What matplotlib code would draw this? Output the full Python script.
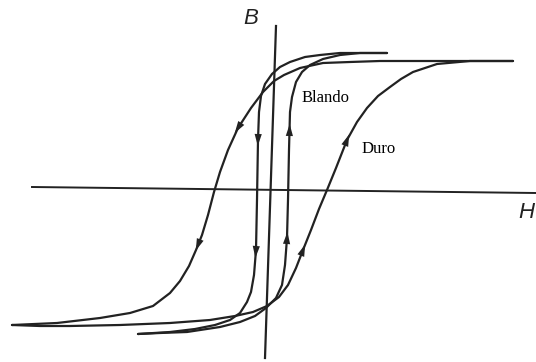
import numpy as np
import matplotlib
matplotlib.use("Agg")
import matplotlib.pyplot as plt

# hysteresis loops, values (H, B in arbitrary units)
# hard material (Duro), descending branch
hard_down_h = [243, 200, 150, 110, 80, 53, 30, 14, 4, -7, -19, -32, -42, -50, -56,
               -62, -68, -74, -81, -90, -100, -117, -140, -170, -213, -258]
hard_down_b = [127, 127, 127, 127, 126, 125, 120, 113, 107, 96, 80, 60, 38, 16, -4,
               -27, -47, -62, -78, -93, -105, -118, -125, -130, -135, -137]
# hard material, ascending branch
hard_up_h = [-258, -230, -200, -150, -100, -60, -35, -17, -3, 9, 18, 26, 33, 41, 49,
             57, 66, 77, 87, 97, 108, 120, 131, 143, 167, 200, 243]
hard_up_b = [-137, -138, -138, -137, -135, -132, -128, -124, -118, -109, -97, -80, -62,
             -42, -21, -2, 20, 48, 66, 80, 92, 101, 109, 116, 124, 127, 127]
# soft material (Blando), descending branch
soft_down_h = [117, 100, 70, 50, 35, 20, 10, 2, -5, -9, -11, -12, -13, -14, -16, -19,
               -23, -30, -40, -55, -75, -100, -132]
soft_down_b = [135, 135, 135, 133, 131, 126, 121, 114, 104, 92, 76, 48, -12, -62, -87,
               -104, -114, -125, -132, -137, -141, -144, -146]
# soft material, ascending branch
soft_up_h = [-132, -110, -83, -50, -30, -15, -4, 6, 12, 15, 17, 18, 19, 20, 22, 26, 32,
             40, 53, 70, 90, 117]
soft_up_b = [-146, -145, -144, -139, -134, -128, -120, -110, -97, -77, -50, -12, 38, 76,
             91, 106, 116, 123, 129, 133, 135, 135]

# axes of the sketch (slightly tilted in the scan)
h_axis_h = [-238, 266]
h_axis_b = [1, -5]
b_axis_h = [6, -5]
b_axis_b = [162, -170]

# arrows: branch and B value where each arrowhead sits
arrows = [("hard_down", 60), ("hard_down", -57),
          ("soft_down", 48), ("soft_down", -64),
          ("soft_up", 58), ("soft_up", -50),
          ("hard_up", -62), ("hard_up", 48)]

branches = {
    "hard_down": (hard_down_h, hard_down_b),
    "hard_up": (hard_up_h, hard_up_b),
    "soft_down": (soft_down_h, soft_down_b),
    "soft_up": (soft_up_h, soft_up_b),
}

line_col = "#222222"

fig = plt.figure(figsize=(5.36, 3.62), dpi=100)
ax = fig.add_axes([0, 0, 1, 1])
ax.set_xlim(-270, 266)
ax.set_ylim(-174, 188)
ax.axis("off")

ax.plot(h_axis_h, h_axis_b, color=line_col, lw=1.4)
ax.plot(b_axis_h, b_axis_b, color=line_col, lw=1.6)

for name, (h, b) in branches.items():
    ax.plot(h, b, color=line_col, lw=1.6, solid_joinstyle="round",
            solid_capstyle="round")


def arrow_on(h, b, target):
    h = np.asarray(h, float)
    b = np.asarray(b, float)
    for i in range(len(b) - 1):
        lo, hi = sorted((b[i], b[i + 1]))
        if lo <= target <= hi and b[i] != b[i + 1]:
            t = (target - b[i]) / (b[i + 1] - b[i])
            p = np.array([h[i] + t * (h[i + 1] - h[i]), target])
            d = np.array([h[i + 1] - h[i], b[i + 1] - b[i]])
            d = d / np.hypot(*d)
            n = np.array([-d[1], d[0]])
            tip = p + d * 6
            base = p - d * 6
            tri = np.array([tip, base + n * 3.6, base - n * 3.6])
            ax.fill(tri[:, 0], tri[:, 1], color=line_col, lw=0)
            return


for name, bval in arrows:
    h, b = branches[name]
    arrow_on(h, b, bval)

ax.text(-19, 170, "B", fontsize=16, style="italic", family="Liberation Sans",
        color="#222222", ha="center", va="center")
ax.text(248, -24, "H", fontsize=16, style="italic", family="Liberation Sans",
        color="#222222", ha="left", va="center")
ax.text(32, 86, "Blando", fontsize=12, family="Liberation Serif",
        color="black", ha="left", va="baseline")
ax.text(92, 35, "Duro", fontsize=12, family="Liberation Serif",
        color="black", ha="left", va="baseline")

fig.savefig("out.png", dpi=100)
